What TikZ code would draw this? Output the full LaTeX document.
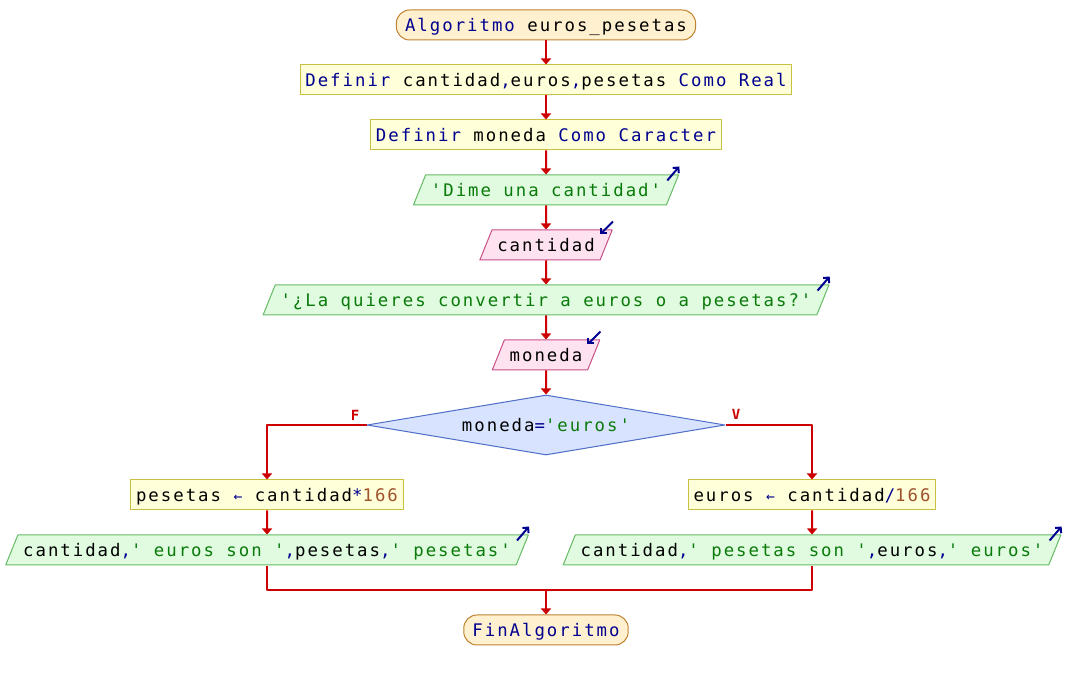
\documentclass[tikz,border=0pt]{standalone}
\usepackage{fontspec}
\setmonofont[LetterSpace=11.5]{DejaVu Sans Mono}
\usepackage{tikz}
\usetikzlibrary{arrows.meta,shapes.geometric}

\definecolor{rojo}{HTML}{CC0000}
\definecolor{azul}{HTML}{000090}
\definecolor{verde}{HTML}{0A7A0A}
\definecolor{marron}{HTML}{A0522D}
\definecolor{crema}{HTML}{FFF0CF}
\definecolor{naranja}{HTML}{C0822E}
\definecolor{amarillo}{HTML}{FFFFDA}
\definecolor{oliva}{HTML}{C8C040}
\definecolor{verdeclaro}{HTML}{E0FBE0}
\definecolor{verdeborde}{HTML}{66BB66}
\definecolor{rosa}{HTML}{FFE2F0}
\definecolor{rosaborde}{HTML}{C85088}
\definecolor{azulclaro}{HTML}{D8E4FF}
\definecolor{azulborde}{HTML}{5070C8}

\newcommand{\kw}[1]{\textcolor{azul}{#1}}
\newcommand{\cad}[1]{\textcolor{verde}{#1}}
\newcommand{\cifra}[1]{\textcolor{marron}{#1}}
\newcommand{\asig}{\kw{{\fontsize{11}{11}\selectfont ←}}}

\tikzset{
  base/.style={font=\ttfamily\fontsize{13}{15}\selectfont, text height=11pt, text depth=1.5pt,
    inner xsep=4pt, inner ysep=5pt, line width=0.75pt},
  inicio/.style={base, rectangle, rounded corners=10pt, fill=crema, draw=naranja, inner xsep=6.5pt},
  proceso/.style={base, rectangle, fill=amarillo, draw=oliva},
  salida/.style={base, trapezium, trapezium left angle=68, trapezium right angle=112,
    fill=verdeclaro, draw=verdeborde},
  entrada/.style={base, trapezium, trapezium left angle=68, trapezium right angle=112,
    fill=rosa, draw=rosaborde},
  decision/.style={base, diamond, aspect=6, minimum width=268.5pt, minimum height=45pt,
    inner sep=0pt, fill=azulclaro, draw=azulborde},
  flecha/.style={draw=rojo, line width=1.5pt, ->},
  linea/.style={draw=rojo, line width=1.5pt},
  icono/.style={draw=azul, line width=1.5pt, -{Straight Barb[length=3pt,width=6pt]}},
  etiq/.style={text=rojo, font=\ttfamily\bfseries\fontsize{10.5}{12}\selectfont, inner sep=0pt}
}

\begin{document}
\begin{tikzpicture}[x=0.75pt,y=-0.75pt, line join=round, >={Triangle[width=7.5pt,length=4.5pt]}]
\useasboundingbox (0,0) rectangle (1068,680);

% bloques
\node[inicio] (inicio) at (546,25) {\kw{Algoritmo} euros\_pesetas};
\node[proceso] (def1) at (546,80) {\kw{Definir} cantidad\kw{,}euros\kw{,}pesetas \kw{Como Real}};
\node[proceso] (def2) at (546,135) {\kw{Definir} moneda \kw{Como Caracter}};
\node[salida] (out1) at (546,190) {\cad{'Dime una cantidad'}};
\node[entrada] (in1) at (546,245) {cantidad};
\node[salida] (out2) at (546,300) {\cad{'¿La quieres convertir a euros o a pesetas?'}};
\node[entrada] (in2) at (546,355) {moneda};
\node[decision] (cond) at (546,425) {moneda\kw{=}\cad{'euros'}};

\node[proceso] (asigF) at (267,495) {pesetas \asig{} cantidad\kw{*}\cifra{166}};
\node[salida] (outF) at (267,550) {cantidad\kw{,}\cad{' euros son '}\kw{,}pesetas\kw{,}\cad{' pesetas'}};
\node[proceso] (asigV) at (812,495) {euros \asig{} cantidad\kw{/}\cifra{166}};
\node[salida] (outV) at (812,550) {cantidad\kw{,}\cad{' pesetas son '}\kw{,}euros\kw{,}\cad{' euros'}};

\node[inicio] (fin) at (546,630) {\kw{FinAlgoritmo}};

\node[etiq] (lblF) at (355,415) {F};
\node[etiq] (lblV) at (736,414) {V};

\coordinate (unionF) at (267,590);
\coordinate (unionV) at (812,590);
\coordinate (union) at (546,590);

% conectores
\draw[flecha] (inicio) -- (def1);
\draw[flecha] (def1) -- (def2);
\draw[flecha] (def2) -- (out1);
\draw[flecha] (out1) -- (in1);
\draw[flecha] (in1) -- (out2);
\draw[flecha] (out2) -- (in2);
\draw[flecha] (in2) -- (cond);
\draw[flecha] (cond.west) -| (asigF);
\draw[flecha] (cond.east) -| (asigV);
\draw[flecha] (asigF) -- (outF);
\draw[flecha] (asigV) -- (outV);
\draw[linea] (outF) -- (unionF) -- (unionV) -- (outV);
\draw[flecha] (union) -- (fin);

% iconos de lectura / escritura
\foreach \n in {out1,out2,outF,outV}
  \draw[icono] ([shift={(-12,6)}]\n.top right corner) -- ([shift={(0,-8)}]\n.top right corner);
\foreach \n in {in1,in2}
  \draw[icono] ([shift={(0,-8)}]\n.top right corner) -- ([shift={(-13,5)}]\n.top right corner);

\end{tikzpicture}
\end{document}
